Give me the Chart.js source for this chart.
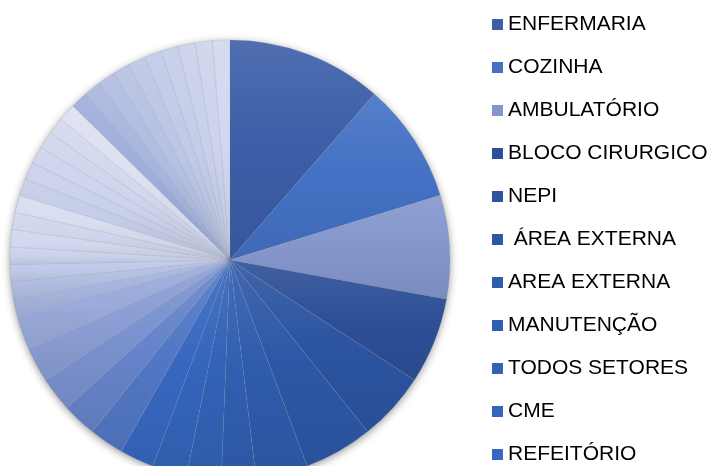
<!DOCTYPE html>
<html>
<head>
<meta charset="utf-8">
<script src="https://cdn.jsdelivr.net/npm/chart.js@4/dist/chart.umd.min.js"></script>
<style>
html,body{margin:0;padding:0;width:712px;height:466px;overflow:hidden;background:#ffffff;}
#wrap{position:absolute;left:-20px;top:-20px;width:740px;height:560px;}
canvas{display:block;}
</style>
</head>
<body>
<div id="wrap"><canvas id="c" width="740" height="560"></canvas></div>
<script>
// Categories (only the first 11 are readable in the legend of the reference; the rest are cut off)
const categories = [
  "ENFERMARIA", "COZINHA", "AMBULATÓRIO", "BLOCO CIRURGICO", "NEPI",
  " ÁREA EXTERNA", "AREA EXTERNA", "MANUTENÇÃO", "TODOS SETORES", "CME",
  "REFEITÓRIO",
  "SETOR 12", "SETOR 13", "SETOR 14", "SETOR 15", "SETOR 16", "SETOR 17",
  "SETOR 18", "SETOR 19", "SETOR 20", "SETOR 21", "SETOR 22", "SETOR 23",
  "SETOR 24", "SETOR 25", "SETOR 26", "SETOR 27", "SETOR 28", "SETOR 29",
  "SETOR 30", "SETOR 31", "SETOR 32", "SETOR 33", "SETOR 34", "SETOR 35",
  "SETOR 36", "SETOR 37", "SETOR 38", "SETOR 39"
];

// Values
const values = [
  9, 7, 6, 5, 4, 4, 3, 2, 2, 2,
  2, 2, 2, 2, 2, 2, 1, 1, 1, 1,
  1, 1, 1, 1, 1, 1, 1, 1, 1, 1,
  1, 1, 1, 1, 1, 1, 1, 1, 1
];

// Slice colours
const sliceColors = [
  "#3b5ea7", "#4471c4", "#8496cc", "#2d4f97", "#2c54a0",
  "#2d57a6", "#2f5bac", "#305eb1", "#3262b6", "#3465bb",
  "#3767c0", "#5277c5", "#6684ca", "#7a92cf", "#8b9ed4",
  "#9aaad9", "#a7b5de", "#b3bfe2", "#bfc8e6", "#cbd2eb",
  "#d1d7ed", "#cfd5ec", "#d7dcef", "#c4cce8", "#c9d0ea",
  "#ccd3eb", "#cfd5ec", "#d2d8ee", "#dce0f2", "#9eadd9",
  "#a7b4dd", "#afbbe0", "#b5c1e2", "#bbc5e4", "#c0c9e6",
  "#c4cde8", "#c8d0ea", "#ccd3eb", "#d1d8ee"
];

const legendCount = 11;
const pieRadius = 220;

function shade(hex, t) {
  const n = parseInt(hex.slice(1), 16);
  let r = (n >> 16) & 255, g = (n >> 8) & 255, b = n & 255;
  if (t >= 0) { r += (255 - r) * t; g += (255 - g) * t; b += (255 - b) * t; }
  else { r *= (1 + t); g *= (1 + t); b *= (1 + t); }
  return "rgb(" + Math.round(r) + "," + Math.round(g) + "," + Math.round(b) + ")";
}

function sliceFill(context) {
  const i = context.dataIndex;
  if (i === undefined) return sliceColors[0];
  const base = sliceColors[i];
  const chart = context.chart;
  const area = chart.chartArea;
  if (!area) return base;
  const cx = (area.left + area.right) / 2;
  const cy = (area.top + area.bottom) / 2;
  const total = values.reduce((a, b) => a + b, 0);
  let before = 0;
  for (let j = 0; j < i; j++) before += values[j];
  const a0 = -Math.PI / 2 + before / total * Math.PI * 2;
  const a1 = a0 + values[i] / total * Math.PI * 2;
  const ys = [cy, cy + pieRadius * Math.sin(a0), cy + pieRadius * Math.sin(a1)];
  if (a0 <= -Math.PI / 2 + 1e-9 || a1 >= 1.5 * Math.PI - 1e-9) ys.push(cy - pieRadius);
  if (a0 <= Math.PI / 2 && a1 >= Math.PI / 2) ys.push(cy + pieRadius);
  const yTop = Math.min.apply(null, ys);
  let yBot = Math.max.apply(null, ys);
  if (yBot - yTop < 1) yBot = yTop + 1;
  const g = chart.ctx.createLinearGradient(0, yTop, 0, yBot);
  g.addColorStop(0, shade(base, 0.10));
  g.addColorStop(0.5, base);
  g.addColorStop(1, shade(base, -0.07));
  return g;
}

const shadowPlugin = {
  id: "pieShadow",
  beforeDatasetsDraw(chart) {
    const arc = chart.getDatasetMeta(0).data[0];
    if (!arc) return;
    const p = arc.getProps(["x", "y", "outerRadius"], true);
    const c = chart.ctx;
    c.save();
    c.shadowColor = "rgba(0,0,0,0.45)";
    c.shadowBlur = 8;
    c.shadowOffsetX = 0;
    c.shadowOffsetY = 2;
    c.fillStyle = "#ffffff";
    c.beginPath();
    c.arc(p.x, p.y, p.outerRadius - 0.5, 0, Math.PI * 2);
    c.fill();
    c.restore();
  }
};

new Chart(document.getElementById("c"), {
  type: "pie",
  data: {
    labels: categories,
    datasets: [{
      data: values,
      backgroundColor: sliceFill,
      borderColor: "rgba(110,120,145,0.28)",
      borderWidth: 0.6,
      radius: pieRadius
    }]
  },
  options: {
    responsive: false,
    animation: false,
    layout: { padding: { left: 4.5, right: 2.5, top: 12, bottom: 12 } },
    plugins: {
      tooltip: { enabled: false },
      legend: {
        position: "right",
        align: "start",
        labels: {
          usePointStyle: true,
          pointStyle: "rect",
          boxWidth: 0.01,
          boxHeight: 11,
          padding: 22,
          color: "#000000",
          font: { family: "'Liberation Sans', Arial, sans-serif", size: 21 },
          filter: (item) => item.index < legendCount,
          generateLabels: (chart) => categories.map((t, i) => ({
            text: t,
            fillStyle: sliceColors[i],
            strokeStyle: "rgba(0,0,0,0)",
            lineWidth: 0,
            pointStyle: "rect",
            fontColor: "#000000",
            hidden: !chart.getDataVisibility(i),
            index: i
          }))
        }
      }
    }
  },
  plugins: [shadowPlugin]
});
</script>
</body>
</html>
